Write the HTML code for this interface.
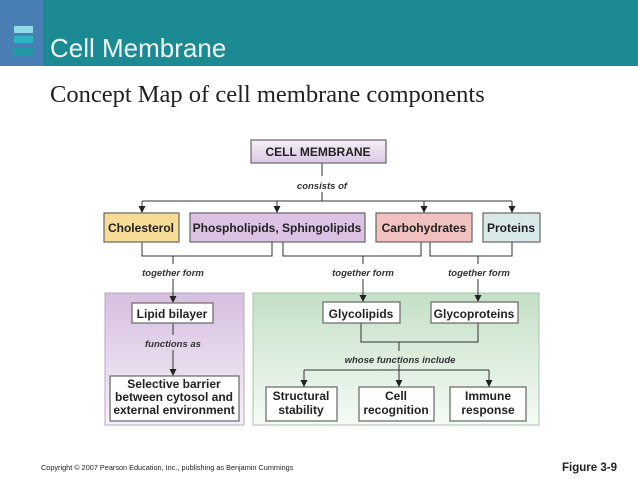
<!DOCTYPE html>
<html><head><meta charset="utf-8"><style>
html,body{margin:0;padding:0;background:#fff;}
body{width:638px;height:479px;overflow:hidden;position:relative;}
svg{position:absolute;left:0;top:0;}
</style></head><body>
<svg width="638" height="479" xmlns="http://www.w3.org/2000/svg" font-family="Liberation Sans, Arial, sans-serif">
<defs>
<linearGradient id="gp" x1="0" y1="0" x2="0" y2="1"><stop offset="0" stop-color="#d6bfe0"/><stop offset="1" stop-color="#f7f1f8"/></linearGradient>
<linearGradient id="gg" x1="0" y1="0" x2="0" y2="1"><stop offset="0" stop-color="#c4e0c6"/><stop offset="1" stop-color="#f6fbf6"/></linearGradient>
<linearGradient id="gc" x1="0" y1="0" x2="0" y2="1"><stop offset="0" stop-color="#f4f0f5"/><stop offset="1" stop-color="#dcc6e6"/></linearGradient>
<marker id="a" markerWidth="7" markerHeight="7" refX="7" refY="3.5" orient="auto" markerUnits="userSpaceOnUse"><path d="M0,0 L7,3.5 L0,7 z" fill="#222"/></marker>
</defs>
<rect x="0" y="0" width="638" height="66" fill="#1c8a93"/>
<rect x="0" y="0" width="43" height="66" fill="#4a7fb6"/>
<rect x="14" y="26" width="19" height="7" fill="#8fdbe8"/>
<rect x="14" y="36" width="19" height="7" fill="#2fb4c4"/>
<rect x="14" y="48" width="19" height="7" fill="#1f99a6"/>
<text x="50" y="57" font-size="26" fill="#eef7f8">Cell Membrane</text>
<text x="50" y="102" font-size="24.5" font-family="Liberation Serif, serif" fill="#222">Concept Map of cell membrane components</text>

<rect x="105" y="293" width="139" height="132" fill="url(#gp)" stroke="#b9a7c2"/>
<rect x="253" y="293" width="286" height="132" fill="url(#gg)" stroke="#a8c4a9"/>

<g stroke="#333" stroke-width="1" fill="none">
<line x1="322" y1="163" x2="322" y2="176"/><line x1="322" y1="192" x2="322" y2="201"/>
<line x1="142" y1="201" x2="512" y2="201"/>
<line x1="142" y1="201" x2="142" y2="213" marker-end="url(#a)"/>
<line x1="277" y1="201" x2="277" y2="213" marker-end="url(#a)"/>
<line x1="424" y1="201" x2="424" y2="213" marker-end="url(#a)"/>
<line x1="512" y1="201" x2="512" y2="213" marker-end="url(#a)"/>
<polyline points="142,242 142,256 272,256 272,242"/>
<polyline points="283,242 283,256 421,256 421,242"/>
<polyline points="430,242 430,256 512,256 512,242"/>
<line x1="173" y1="256" x2="173" y2="264"/><line x1="173" y1="279" x2="173" y2="303" marker-end="url(#a)"/>
<line x1="363" y1="256" x2="363" y2="264"/><line x1="363" y1="279" x2="363" y2="302" marker-end="url(#a)"/>
<line x1="478" y1="256" x2="478" y2="264"/><line x1="478" y1="279" x2="478" y2="302" marker-end="url(#a)"/>
<line x1="173" y1="323" x2="173" y2="335"/><line x1="173" y1="350" x2="173" y2="376" marker-end="url(#a)"/>
<polyline points="361,323 361,342 478,342 478,323"/>
<line x1="399" y1="342" x2="399" y2="351"/><line x1="399" y1="364" x2="399" y2="387" marker-end="url(#a)"/>
<line x1="304" y1="370" x2="489" y2="370"/>
<line x1="304" y1="370" x2="304" y2="387" marker-end="url(#a)"/>
<line x1="489" y1="370" x2="489" y2="387" marker-end="url(#a)"/>
</g>

<g stroke="#666" stroke-width="1.2">
<rect x="251" y="140" width="135" height="23" fill="url(#gc)"/>
<rect x="104" y="213" width="75" height="29" fill="#f7dc96"/>
<rect x="190" y="213" width="175" height="29" fill="#dcc3e3"/>
<rect x="376" y="213" width="96" height="29" fill="#f1c1c0"/>
<rect x="483" y="213" width="57" height="29" fill="#d9e9ea"/>
<rect x="132" y="303" width="81" height="20" fill="#fff"/>
<rect x="110" y="376" width="129" height="45" fill="#fff"/>
<rect x="323" y="302" width="77" height="21" fill="#fff"/>
<rect x="431" y="302" width="87" height="21" fill="#fff"/>
<rect x="266" y="387" width="71" height="34" fill="#fff"/>
<rect x="359" y="387" width="75" height="34" fill="#fff"/>
<rect x="450" y="387" width="76" height="34" fill="#fff"/>
</g>

<g font-weight="bold" fill="#222" text-anchor="middle" font-size="12">
<text x="318" y="156" font-size="12">CELL  MEMBRANE</text>
<text x="141" y="232">Cholesterol</text>
<text x="277" y="232">Phospholipids, Sphingolipids</text>
<text x="424" y="232">Carbohydrates</text>
<text x="511" y="232">Proteins</text>
<text x="172" y="318">Lipid bilayer</text>
<text x="361" y="318">Glycolipids</text>
<text x="474" y="318">Glycoproteins</text>
<text x="174" y="388">Selective barrier</text>
<text x="174" y="401">between cytosol and</text>
<text x="174" y="414">external environment</text>
<text x="301" y="400">Structural</text><text x="301" y="414">stability</text>
<text x="396" y="400">Cell</text><text x="396" y="414">recognition</text>
<text x="488" y="400">Immune</text><text x="488" y="414">response</text>
</g>
<g font-weight="bold" font-style="italic" fill="#333" text-anchor="middle" font-size="9.5">
<text x="322" y="189">consists of</text>
<text x="173" y="276">together form</text>
<text x="363" y="276">together form</text>
<text x="479" y="276">together form</text>
<text x="173" y="347">functions as</text>
<text x="400" y="363">whose functions include</text>
</g>
<text x="41" y="470" font-size="7.3" fill="#222">Copyright © 2007 Pearson Education, Inc., publishing as Benjamin Cummings</text>
<text x="617" y="471" font-size="11.5" font-weight="bold" fill="#222" text-anchor="end">Figure 3-9</text>
</svg>
</body></html>
